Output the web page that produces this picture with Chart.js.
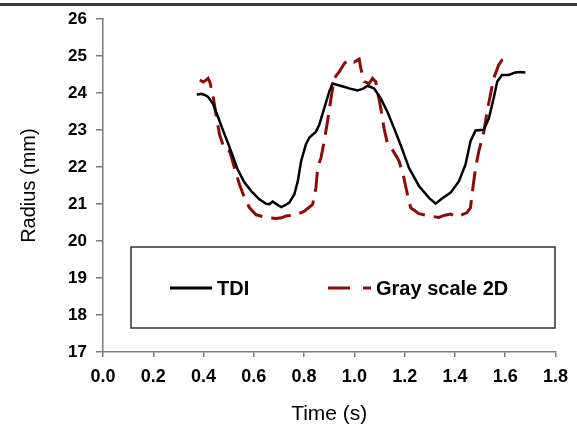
<!DOCTYPE html>
<html>
<head>
<meta charset="utf-8">
<script src="https://cdn.jsdelivr.net/npm/chart.js@4"></script>
<style>
  html, body { margin: 0; padding: 0; background: #fff; }
  #wrap { width: 577px; height: 429px; position: relative; }
</style>
</head>
<body>
<div id="wrap"><canvas id="c" width="577" height="429"></canvas></div>
<script>
// ---- Data ----
const tdiTime = [0.373,0.39,0.405,0.418,0.437,0.457,0.477,0.497,0.517,0.536,0.563,0.59,0.622,0.649,0.662,0.675,0.69,0.709,0.725,0.741,0.761,0.775,0.788,0.807,0.821,0.847,0.86,0.88,0.9,0.913,0.933,0.955,0.979,1.012,1.035,1.052,1.078,1.105,1.131,1.158,1.184,1.217,1.257,1.297,1.323,1.35,1.383,1.416,1.442,1.462,1.482,1.515,1.535,1.554,1.568,1.587,1.614,1.64,1.66,1.68];
const tdiRadius = [23.96,23.98,23.95,23.9,23.72,23.37,23.0,22.65,22.29,21.93,21.58,21.35,21.13,21.01,21.0,21.07,21.0,20.92,20.97,21.04,21.26,21.62,22.16,22.61,22.8,22.96,23.14,23.59,24.04,24.26,24.22,24.18,24.13,24.07,24.12,24.2,24.13,23.86,23.5,23.05,22.6,21.98,21.49,21.17,21.01,21.16,21.31,21.62,22.07,22.7,22.99,23.01,23.32,23.86,24.31,24.49,24.49,24.56,24.57,24.56];

const grayTime = [0.385,0.40,0.418,0.425,0.437,0.45,0.464,0.484,0.504,0.523,0.543,0.563,0.583,0.609,0.649,0.689,0.71,0.728,0.768,0.801,0.834,0.847,0.854,0.867,0.88,0.893,0.907,0.92,0.94,0.96,0.979,0.999,1.019,1.026,1.039,1.059,1.072,1.085,1.092,1.105,1.118,1.131,1.151,1.171,1.178,1.197,1.211,1.224,1.257,1.297,1.336,1.36,1.383,1.409,1.448,1.462,1.468,1.482,1.495,1.515,1.528,1.541,1.554,1.574,1.587,1.6];
const grayRadius = [24.35,24.3,24.4,24.3,23.95,23.41,22.87,22.47,22.43,21.98,21.53,21.17,20.9,20.71,20.64,20.61,20.63,20.68,20.71,20.81,20.99,21.44,21.98,22.25,22.7,23.23,23.86,24.4,24.58,24.8,24.92,24.84,24.92,24.66,24.31,24.26,24.4,24.31,24.04,23.59,23.05,22.65,22.47,22.25,22.16,21.71,21.26,20.9,20.74,20.68,20.64,20.7,20.73,20.65,20.77,20.9,21.26,21.98,22.43,22.96,23.5,23.95,24.4,24.76,24.89,24.92];

const seriesNames = ["TDI", "Gray scale 2D"];
const xRange = [0, 1.8, 0.2];
const yRange = [17, 26, 1];
const xTitle = "Time (s)";
const yTitle = "Radius (mm)";

const toPts = (xs, ys) => xs.map((x, i) => ({ x: x, y: ys[i] }));

const legendPlugin = {
  id: 'boxLegend',
  afterDraw(chart) {
    const ctx = chart.ctx;
    ctx.save();
    // top rule
    ctx.fillStyle = '#3a3a3a';
    ctx.fillRect(0, 3, 577, 3);
    // legend box
    ctx.fillStyle = '#fff';
    ctx.fillRect(131, 247, 424, 81);
    ctx.strokeStyle = '#333';
    ctx.lineWidth = 1.5;
    ctx.strokeRect(131, 247, 424, 81);
    const ds = chart.data.datasets;
    const yMid = 288;
    // TDI entry
    ctx.setLineDash([]);
    ctx.strokeStyle = ds[0].borderColor;
    ctx.lineWidth = 3;
    ctx.beginPath(); ctx.moveTo(170, yMid); ctx.lineTo(212, yMid); ctx.stroke();
    // Gray entry
    ctx.strokeStyle = ds[1].borderColor;
    ctx.beginPath(); ctx.moveTo(328, yMid); ctx.lineTo(350, yMid);
    ctx.moveTo(363, yMid); ctx.lineTo(371, yMid); ctx.stroke();
    ctx.fillStyle = '#000';
    ctx.font = 'bold 20px "Liberation Sans", Arial, sans-serif';
    ctx.textBaseline = 'middle';
    ctx.textAlign = 'left';
    ctx.fillText(ds[0].label, 217, yMid + 1);
    ctx.fillText(ds[1].label, 376, yMid + 1);
    ctx.restore();
  }
};

new Chart(document.getElementById('c'), {
  type: 'scatter',
  data: {
    datasets: [
      {
        label: seriesNames[0],
        data: toPts(tdiTime, tdiRadius),
        showLine: true,
        borderColor: '#000000',
        borderWidth: 2.5,
        pointRadius: 0,
        tension: 0,
        fill: false
      },
      {
        label: seriesNames[1],
        data: toPts(grayTime, grayRadius),
        showLine: true,
        borderColor: '#8b0a0a',
        borderWidth: 3,
        borderDash: [20, 9],
        pointRadius: 0,
        tension: 0,
        fill: false
      }
    ]
  },
  options: {
    responsive: false,
    animation: false,
    events: [],
    layout: { padding: { top: 17, right: 20, bottom: 0, left: 0 } },
    plugins: {
      legend: { display: false },
      tooltip: { enabled: false }
    },
    scales: {
      x: {
        type: 'linear',
        min: xRange[0], max: xRange[1],
        afterFit(scale) { scale.height = 77; },
        afterBuildTicks(scale) {
          const t = [];
          for (let v = xRange[0]; v <= xRange[1] + 1e-9; v += xRange[2]) t.push({ value: Math.round(v * 10) / 10 });
          scale.ticks = t;
        },
        ticks: {
          color: '#000',
          font: { family: '"Liberation Sans", Arial, sans-serif', size: 18, weight: 'bold' },
          padding: 9,
          maxRotation: 0,
          autoSkip: false,
          callback: v => Number(v).toFixed(1)
        },
        grid: { display: true, drawOnChartArea: false, drawTicks: true, tickLength: 5, color: '#7a7a7a', lineWidth: 1.5 },
        border: { display: true, color: '#7a7a7a', width: 1.5 },
        title: {
          display: true, text: xTitle, color: '#000',
          font: { family: '"Liberation Sans", Arial, sans-serif', size: 21, weight: 'normal' },
          padding: { top: 0, bottom: 2 }
        }
      },
      y: {
        type: 'linear',
        min: yRange[0], max: yRange[1],
        afterFit(scale) { scale.width = 103; },
        afterBuildTicks(scale) {
          const t = [];
          for (let v = yRange[0]; v <= yRange[1]; v += yRange[2]) t.push({ value: v });
          scale.ticks = t;
        },
        ticks: {
          color: '#000',
          font: { family: '"Liberation Sans", Arial, sans-serif', size: 17, weight: 'bold' },
          padding: 9,
          autoSkip: false
        },
        grid: { display: true, drawOnChartArea: false, drawTicks: true, tickLength: 7, color: '#7a7a7a', lineWidth: 1.5 },
        border: { display: true, color: '#7a7a7a', width: 1.5 },
        title: {
          display: true, text: yTitle, color: '#000',
          font: { family: '"Liberation Sans", Arial, sans-serif', size: 20, weight: 'normal' },
          padding: { top: 17, bottom: 0 }
        }
      }
    }
  },
  plugins: [legendPlugin]
});
</script>
</body>
</html>
